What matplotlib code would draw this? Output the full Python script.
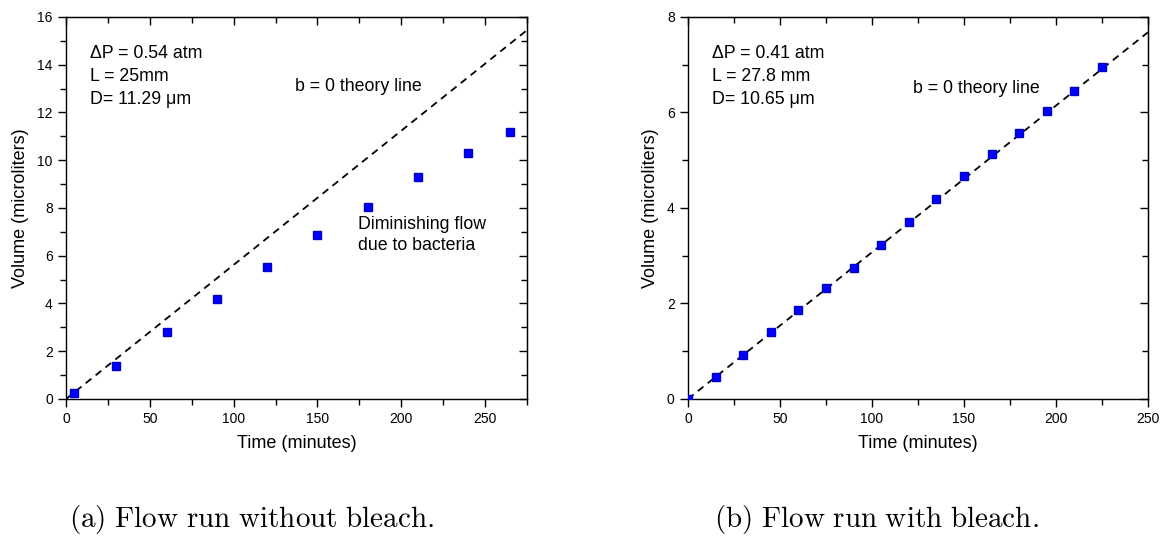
import matplotlib.pyplot as plt
import numpy as np
from matplotlib.ticker import MultipleLocator

plt.rcParams['font.family'] = ['Liberation Sans', 'DejaVu Sans']
plt.rcParams['mathtext.fontset'] = 'cm'

# flow run without bleach
time_a = [5, 30, 60, 90, 120, 150, 180, 210, 240, 265]
vol_a = [0.25, 1.4, 2.8, 4.2, 5.52, 6.85, 8.05, 9.3, 10.3, 11.2]
slope_a = 15.45 / 275  # b = 0 theory line

# flow run with bleach
time_b = [0, 15, 30, 45, 60, 75, 90, 105, 120, 135, 150, 165, 180, 195, 210, 225]
vol_b = [0.0, 0.46, 0.93, 1.4, 1.87, 2.32, 2.75, 3.22, 3.7, 4.18, 4.66, 5.13,
         5.57, 6.03, 6.45, 6.95]
slope_b = 7.68 / 250

info_a = ['\u0394P = 0.54 atm', 'L = 25mm', 'D= 11.29 \u03bcm']
info_b = ['\u0394P = 0.41 atm', 'L = 27.8 mm', 'D= 10.65 \u03bcm']


def mirror_ticks(ax):
    # origin style: outer ticks bottom/left, inner ticks on top/right
    ax.tick_params(which='major', direction='out', length=6, width=1, labelsize=10)
    ax.tick_params(which='minor', direction='out', length=4, width=1)
    top = ax.secondary_xaxis('top')
    right = ax.secondary_yaxis('right')
    for sec in (top, right):
        sec.tick_params(which='major', direction='in', length=6, width=1)
        sec.tick_params(which='minor', direction='in', length=4, width=1)
        sec.tick_params(labeltop=False, labelright=False, labelleft=False, labelbottom=False)
    top.xaxis.set_major_locator(ax.xaxis.get_major_locator())
    top.xaxis.set_minor_locator(ax.xaxis.get_minor_locator())
    right.yaxis.set_major_locator(ax.yaxis.get_major_locator())
    right.yaxis.set_minor_locator(ax.yaxis.get_minor_locator())


def panel(ax, t, v, slope, xmax, ymax, ystep, info):
    xx = np.array([0, xmax])
    ax.plot(xx, slope * xx, color='black', ls=(0, (4, 3)), lw=1.3, zorder=2)
    ax.plot(t, v, 's', color='#0000ff', markersize=6, mec='#0000cc', zorder=3)
    ax.set_xlim(0, xmax)
    ax.set_ylim(0, ymax)
    ax.xaxis.set_major_locator(MultipleLocator(50))
    ax.xaxis.set_minor_locator(MultipleLocator(25))
    ax.yaxis.set_major_locator(MultipleLocator(ystep))
    ax.yaxis.set_minor_locator(MultipleLocator(ystep / 2))
    for s in ax.spines.values():
        s.set_linewidth(1)
    ax.set_xlabel('Time (minutes)', fontsize=13, labelpad=6)
    ax.set_ylabel('Volume (microliters)', fontsize=13, labelpad=6)
    for i, line in enumerate(info):
        ax.text(0.052, 0.905 - i * 0.06, line, transform=ax.transAxes,
                fontsize=12.8, va='center')
    mirror_ticks(ax)


fig = plt.figure(figsize=(11.66, 5.36), dpi=100)
ax1 = fig.add_axes([0.0566, 0.2556, 0.3954, 0.7127])
ax2 = fig.add_axes([0.5900, 0.2556, 0.3945, 0.7127])

panel(ax1, time_a, vol_a, slope_a, 275, 16, 2, info_a)
ax1.text(0.497, 0.818, 'b = 0 theory line', transform=ax1.transAxes, fontsize=12.8, va='center')
ax1.text(0.633, 0.43, 'Diminishing flow\ndue to bacteria', transform=ax1.transAxes,
         fontsize=12.8, va='center', linespacing=1.3)

panel(ax2, time_b, vol_b, slope_b, 250, 8, 2, info_b)
ax2.text(0.49, 0.812, 'b = 0 theory line', transform=ax2.transAxes, fontsize=12.8, va='center')

fig.text(0.216, 0.03, '$\\mathrm{(a)\\ Flow\\ run\\ without\\ bleach.}$', fontsize=21, ha='center', va='center')
fig.text(0.752, 0.03, '$\\mathrm{(b)\\ Flow\\ run\\ with\\ bleach.}$', fontsize=21, ha='center', va='center')

fig.savefig('out.png', dpi=100)
